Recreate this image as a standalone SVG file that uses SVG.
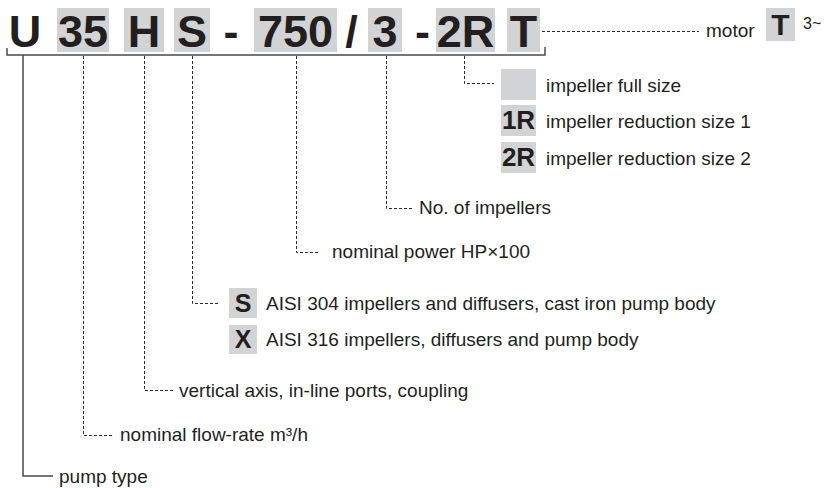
<svg xmlns="http://www.w3.org/2000/svg" width="824" height="488" viewBox="0 0 824 488">
<style>
.bg{fill:#ffffff}
.box{fill:#d2d3d5}
.code{font-family:"Liberation Sans",Arial,sans-serif;font-weight:bold;font-size:45px;fill:#231f20;text-anchor:middle}
.sc{font-family:"Liberation Sans",Arial,sans-serif;font-weight:bold;font-size:26px;fill:#231f20;text-anchor:middle}
.lbl{font-family:"Liberation Sans",Arial,sans-serif;font-size:19px;fill:#231f20}
.dash{fill:none;stroke:#2a2a2a;stroke-width:1;stroke-dasharray:3 2}
.solid{fill:none;stroke:#4a4a4a;stroke-width:1.5}
</style>
<rect class="bg" x="0" y="0" width="824" height="488"/>

<g id="code">
  <rect class="box" x="57" y="8" width="52" height="44"/>
  <rect class="box" x="124" y="8" width="40" height="44"/>
  <rect class="box" x="174" y="8" width="36" height="44"/>
  <rect class="box" x="254" y="8" width="83" height="44"/>
  <rect class="box" x="368" y="8" width="34" height="44"/>
  <rect class="box" x="436" y="8" width="59" height="44"/>
  <rect class="box" x="507" y="8" width="33" height="44"/>
  <text class="code" x="25" y="47">U</text>
  <text class="code" x="83" y="47">35</text>
  <text class="code" x="144" y="47">H</text>
  <text class="code" x="192" y="47">S</text>
  <text class="code" x="231" y="47">-</text>
  <text class="code" x="295.5" y="47">750</text>
  <text class="code" x="351.5" y="47">/</text>
  <text class="code" x="385" y="47">3</text>
  <text class="code" x="422.5" y="47">-</text>
  <text class="code" x="465.5" y="47">2R</text>
  <text class="code" x="523.5" y="47">T</text>
</g>

<g id="connectors">
  <path class="solid" d="M7,48 V55 H545 V47"/>
  <path class="solid" d="M23,55 V476 H53"/>
  <path class="dash" d="M83.5,56 V435.5 H114"/>
  <path class="dash" d="M144.5,56 V390.5 H174"/>
  <path class="dash" d="M192.5,56 V303.5 H219"/>
  <path class="dash" d="M296.5,56 V252.5 H318"/>
  <path class="dash" d="M386.5,56 V208.5 H413"/>
  <path class="dash" d="M464.5,56 V83.5 H494"/>
  <path class="dash" d="M542,31.5 H699"/>
</g>

<g id="motor">
  <text class="lbl" x="706" y="37">motor</text>
  <rect class="box" x="766" y="8" width="29" height="33"/>
  <text class="code" x="780.5" y="35" style="font-size:30px">T</text>
  <text class="lbl" x="803" y="29" style="font-size:16px">3~</text>
</g>

<g id="impeller-full">
  <rect class="box" x="501" y="69" width="35" height="31"/>
  <text class="lbl" x="546" y="92">impeller full size</text>
</g>
<g id="impeller-1R">
  <rect class="box" x="501" y="105" width="35" height="31"/>
  <text class="sc" x="518.5" y="129">1R</text>
  <text class="lbl" x="546" y="128">impeller reduction size 1</text>
</g>
<g id="impeller-2R">
  <rect class="box" x="501" y="142" width="35" height="31"/>
  <text class="sc" x="518.5" y="166">2R</text>
  <text class="lbl" x="546" y="165">impeller reduction size 2</text>
</g>

<g id="impellers">
  <text class="lbl" x="419" y="214">No. of impellers</text>
</g>
<g id="power">
  <text class="lbl" x="332" y="258">nominal power HP×100</text>
</g>
<g id="material-S">
  <rect class="box" x="229" y="288" width="28" height="30"/>
  <text class="sc" x="243" y="312" style="font-size:25px">S</text>
  <text class="lbl" x="266" y="310">AISI 304 impellers and diffusers, cast iron pump body</text>
</g>
<g id="material-X">
  <rect class="box" x="229" y="325" width="28" height="29"/>
  <text class="sc" x="243" y="348" style="font-size:25px">X</text>
  <text class="lbl" x="266" y="346">AISI 316 impellers, diffusers and pump body</text>
</g>
<g id="axis">
  <text class="lbl" x="179" y="397">vertical axis, in-line ports, coupling</text>
</g>
<g id="flow">
  <text class="lbl" x="120" y="441">nominal flow-rate m³/h</text>
</g>
<g id="type">
  <text class="lbl" x="59" y="483">pump type</text>
</g>
</svg>
